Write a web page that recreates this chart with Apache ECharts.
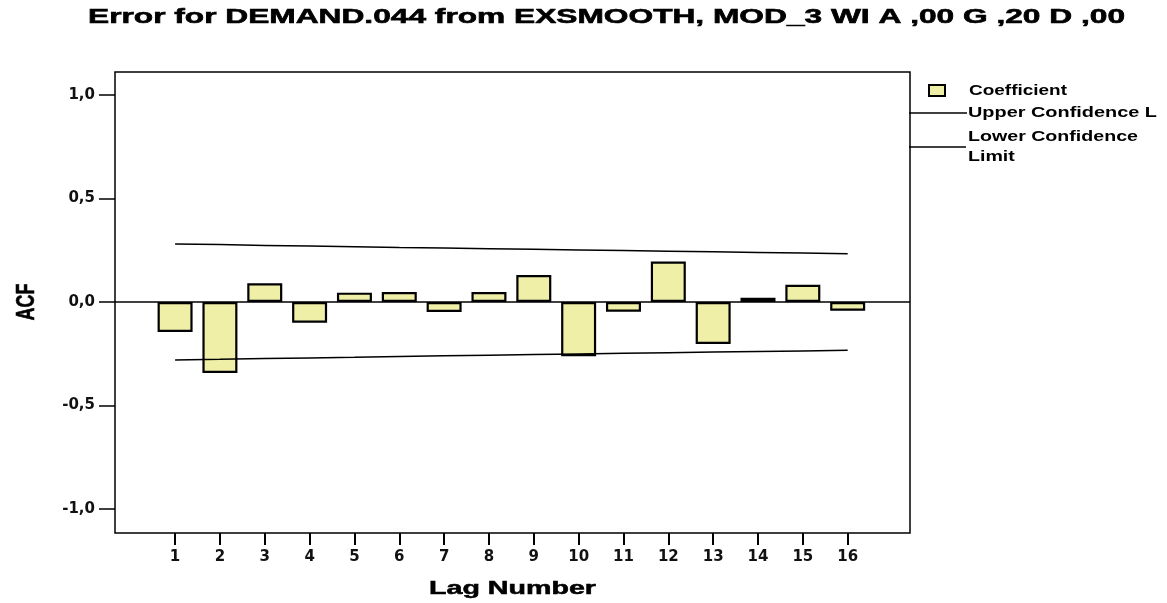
<!DOCTYPE html>
<html>
<head>
<meta charset="utf-8">
<script src="https://cdn.jsdelivr.net/npm/echarts@6/dist/echarts.min.js"></script>
<style>
  html, body { margin: 0; padding: 0; background: #ffffff; }
  #chart { width: 1167px; height: 603px; }
</style>
</head>
<body>
<div id="chart"></div>
<script>
// ACF of the smoothing residuals, lags 1..16
const titleText = 'Error for DEMAND.044 from EXSMOOTH, MOD_3 WI A ,00 G ,20 D ,00';
const lags = [1, 2, 3, 4, 5, 6, 7, 8, 9, 10, 11, 12, 13, 14, 15, 16];
const coefficients = [-0.145, -0.343, 0.090, -0.100, 0.045, 0.048, -0.048, 0.048,
                      0.130, -0.262, -0.047, 0.195, -0.203, 0.020, 0.083, -0.042];
const upperLimit = [0.280, 0.277, 0.273, 0.270, 0.267, 0.263, 0.260, 0.257,
                    0.254, 0.251, 0.248, 0.245, 0.242, 0.239, 0.236, 0.233];
const lowerLimit = [-0.280, -0.277, -0.273, -0.270, -0.267, -0.263, -0.260, -0.257,
                    -0.254, -0.251, -0.248, -0.245, -0.242, -0.239, -0.236, -0.233];
const yTicks = [-1, -0.5, 0, 0.5, 1];
const seriesNames = ['Coefficient', 'Upper Confidence Limit', 'Lower Confidence Limit'];
const legendLabels = ['Coefficient', 'Upper Confidence L', 'Lower Confidence', 'Limit'];
const xAxisName = 'Lag Number';
const yAxisName = 'ACF';

const BAR_FILL = '#efefa8';
const INK = '#000000';

// Wide, stretched lettering: each text is scaled horizontally to its box width.
const measureCtx = document.createElement('canvas').getContext('2d');
function textWidth(text, font) {
  measureCtx.font = font;
  return measureCtx.measureText(text).width;
}
function wideText(text, font, left, cy, scaleX, weight) {
  return {
    type: 'text',
    x: left,
    y: cy,
    scaleX: scaleX,
    silent: true,
    style: {
      text: text, font: font, fill: INK, align: 'left', verticalAlign: 'middle',
      stroke: weight ? INK : null, lineWidth: weight || 0
    }
  };
}
function fitText(text, font, left, cy, width, weight) {
  return wideText(text, font, left, cy, width / textWidth(text, font), weight);
}

const TITLE_FONT = 'bold 20px "Liberation Sans"';
const NAME_FONT = 'bold 18px "Liberation Sans"';
const LEGEND_FONT = 'bold 14.5px "Liberation Sans"';
const legendScale = 170 / textWidth(legendLabels[2], LEGEND_FONT);

const chart = echarts.init(document.getElementById('chart'), null, { renderer: 'canvas' });

const pairs = (vals) => lags.map((l, i) => [l, vals[i]]);

chart.setOption({
  animation: false,
  backgroundColor: '#ffffff',
  grid: {
    left: 115, right: 257, top: 72, bottom: 70,
    show: true, borderColor: INK, borderWidth: 1.5, backgroundColor: 'transparent'
  },
  xAxis: {
    type: 'value',
    min: -0.34, max: 17.39,
    axisLine: { show: false, onZero: false },
    splitLine: { show: false },
    axisTick: { show: true, length: 12, customValues: lags, lineStyle: { color: INK, width: 2 } },
    axisLabel: {
      customValues: lags, margin: 17, color: '#111',
      fontFamily: 'DejaVu Sans', fontWeight: 'bold', fontSize: 15
    }
  },
  yAxis: {
    type: 'value',
    min: -1.115, max: 1.11,
    axisLine: { show: false, onZero: false },
    splitLine: { show: false },
    axisTick: { show: true, length: 16, customValues: yTicks, lineStyle: { color: INK, width: 1.5 } },
    axisLabel: {
      customValues: yTicks, margin: 20, color: '#111',
      fontFamily: 'DejaVu Sans', fontWeight: 'bold', fontSize: 15,
      formatter: (v) => v.toFixed(1).replace('.', ',')
    }
  },
  series: [
    {
      name: seriesNames[0],
      type: 'bar',
      barWidth: 35,
      data: pairs(coefficients),
      itemStyle: { color: BAR_FILL, borderColor: INK, borderWidth: 2.2 },
      markLine: {
        silent: true,
        symbol: ['none', 'none'],
        label: { show: false },
        lineStyle: { color: INK, width: 1.5, type: 'solid' },
        data: [{ yAxis: 0 }]
      }
    },
    {
      name: seriesNames[1],
      type: 'line',
      data: pairs(upperLimit),
      symbol: 'none',
      lineStyle: { color: INK, width: 1.5 }
    },
    {
      name: seriesNames[2],
      type: 'line',
      data: pairs(lowerLimit),
      symbol: 'none',
      lineStyle: { color: INK, width: 1.5 }
    }
  ],
  graphic: [
    fitText(titleText, TITLE_FONT, 88, 17, 1037, 0.6),
    fitText(xAxisName, NAME_FONT, 429, 589, 167, 0.5),
    {
      type: 'text',
      x: 27, y: 302,
      rotation: Math.PI / 2,
      scaleY: 1.4,
      silent: true,
      style: {
        text: yAxisName, font: 'bold 18px "Liberation Sans"', fill: INK,
        stroke: INK, lineWidth: 0.4, align: 'center', verticalAlign: 'middle'
      }
    },
    // legend
    {
      type: 'rect',
      shape: { x: 929, y: 85, width: 16, height: 11 },
      style: { fill: BAR_FILL, stroke: INK, lineWidth: 2 },
      silent: true
    },
    fitText(legendLabels[0], LEGEND_FONT, 969, 91, 98),
    {
      type: 'line',
      shape: { x1: 909, y1: 113, x2: 967, y2: 113 },
      style: { stroke: INK, lineWidth: 1.5 },
      silent: true
    },
    fitText(legendLabels[1], LEGEND_FONT, 968, 113, 189),
    {
      type: 'line',
      shape: { x1: 909, y1: 147, x2: 966, y2: 147 },
      style: { stroke: INK, lineWidth: 1.5 },
      silent: true
    },
    wideText(legendLabels[2], LEGEND_FONT, 968, 137, legendScale),
    wideText(legendLabels[3], LEGEND_FONT, 968, 157, legendScale)
  ]
});
</script>
</body>
</html>
